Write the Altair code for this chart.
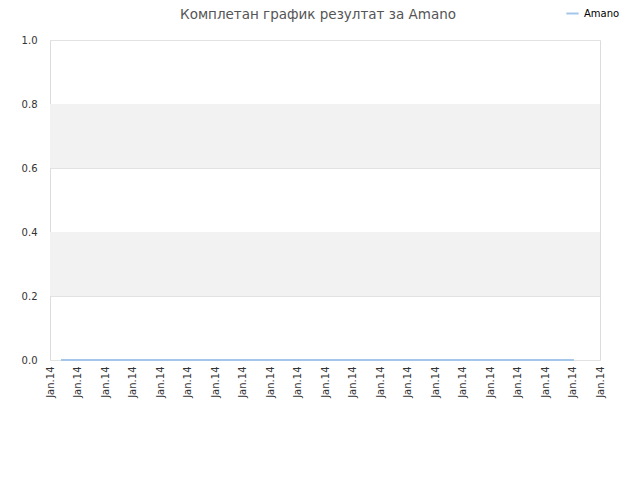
import altair as alt
import pandas as pd
import json

tick_pos = list(range(21))
tick_labels = ["Jan.14"] * 21
series_x = [0.4, 19.05]
series_y = [0.0, 0.0]
band_lo = [0.2, 0.6]
band_hi = [0.4, 0.8]

line_df = pd.DataFrame({"x": series_x, "y": series_y, "s": ["Amano"] * len(series_x)})
band_df = pd.DataFrame({"lo": band_lo, "hi": band_hi})

xs = alt.Scale(domain=[0, 20], nice=False, zero=False)
ys = alt.Scale(domain=[0, 1], nice=False)

bands = alt.Chart(band_df).mark_rect(color="#f2f2f2").encode(
    x=alt.value(0), x2=alt.value(550),
    y=alt.Y("lo:Q", scale=ys), y2="hi:Q",
)

labels_js = json.dumps(tick_labels)
line = alt.Chart(line_df).mark_line(strokeWidth=2).encode(
    x=alt.X("x:Q", scale=xs, title=None,
            axis=alt.Axis(values=tick_pos, labelExpr=f"{labels_js}[datum.value]",
                          labelAngle=-90, labelAlign="right", labelBaseline="middle",
                          labelPadding=6, ticks=False, domain=False, grid=False,
                          labelFont="DejaVu Sans", labelFontSize=10, labelColor="#333")),
    y=alt.Y("y:Q", scale=ys, title=None,
            axis=alt.Axis(values=[0, 0.2, 0.4, 0.6, 0.8, 1.0], format=".1f",
                          ticks=False, domain=False, gridColor="#e2e2e2",
                          labelPadding=13, labelFont="DejaVu Sans", labelFontSize=10,
                          labelColor="#333")),
    color=alt.Color("s:N", scale=alt.Scale(range=["#a3c6ea"]),
                    legend=alt.Legend(title=None, orient="none", legendX=515, legendY=-34,
                                      symbolType="stroke", symbolSize=150, symbolStrokeWidth=2,
                                      labelFont="DejaVu Sans", labelFontSize=10,
                                      labelColor="#000")),
)

chart = alt.layer(bands, line).properties(
    width=550, height=320,
    autosize=alt.AutoSizeParams(type="none"),
    padding={"left": 42, "top": 32, "right": 24, "bottom": 90},
    title=alt.TitleParams("Комплетан график резултат за Amano", font="DejaVu Sans",
                          fontSize=13.5, fontWeight="normal", color="#555",
                          anchor="middle", dx=-7, dy=27, offset=12, frame="group"),
).configure_view(stroke="#dcdcdc")

chart.save("out.html", embed_options={"renderer": "svg", "actions": False})
